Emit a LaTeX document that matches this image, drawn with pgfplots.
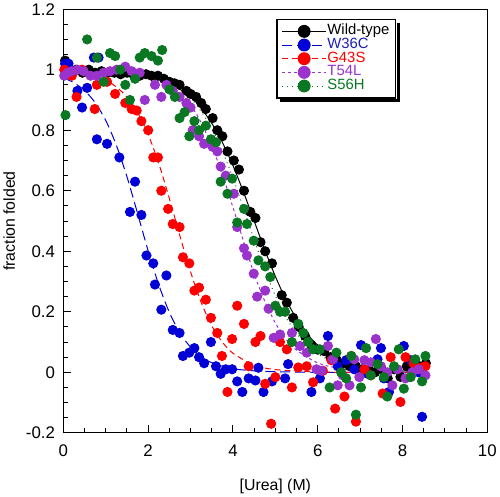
\documentclass[border=0pt]{standalone}
\usepackage{pgfplots}
\pgfplotsset{compat=1.18}
\usepackage{fontspec}
\setmainfont{Liberation Sans}
\usetikzlibrary{calc}
\definecolor{cblue}{RGB}{0,0,215}
\definecolor{cred}{RGB}{255,0,0}
\definecolor{cpurple}{RGB}{153,51,204}
\definecolor{cgreen}{RGB}{10,120,35}
\definecolor{tblue}{RGB}{30,30,190}
\begin{document}
\begin{tikzpicture}
\begin{axis}[
  scale only axis,
  width=428.3pt, height=428pt,
  xmin=0, xmax=10, ymin=-0.2, ymax=1.2,
  xtick={0,2,...,10}, ytick={-0.2,0,0.2,0.4,0.6,0.8,1,1.2},
  minor x tick num=3, minor y tick num=3,
  tick align=inside, xtick pos=bottom, ytick pos=left,
  major tick length=8pt, minor tick length=5pt,
  every tick/.style={black, line width=1pt},
  axis line style={line width=1.2pt},
  /pgf/number format/assume math mode=true,
  tick label style={font=\fontsize{17}{19}\selectfont},
  xticklabel style={yshift=-9pt},
  yticklabel style={xshift=-5pt},
  xlabel={[Urea] (M)}, ylabel={fraction folded},
  label style={font=\fontsize{16}{19}\selectfont},
  xlabel style={at={(axis description cs:0.5,-0.126)}, anchor=center},
  ylabel style={at={(axis description cs:-0.128,0.5)}, anchor=center},
  legend cell align=left,
  legend image code/.code={\draw[line width=1pt, mark repeat=2,mark phase=2] plot coordinates {(0pt,0pt) (22pt,0pt) (44pt,0pt)};},
  legend style={name=leg, at={(axis cs:5.02,1.168)}, anchor=north west, draw=black, line width=1.5pt, fill=white,
    font=\fontsize{15}{15}\selectfont, row sep=0pt, inner xsep=5pt, inner ysep=5pt,
    nodes={inner xsep=1pt, inner ysep=0.4pt, text height=10pt, text depth=3pt}},
  every axis plot/.append style={line width=1pt},
]
\addlegendimage{black, solid, mark=*, mark size=6pt, mark options={solid}}
\addlegendentry{\fontsize{15}{15}\selectfont Wild-type}
\addlegendimage{cblue, dash pattern=on 10pt off 5pt, mark=*, mark size=6pt, mark options={solid}}
\addlegendentry{\fontsize{15}{15}\selectfont\textcolor{tblue}{W36C}}
\addlegendimage{cred, dash pattern=on 6pt off 4pt, mark=*, mark size=6pt, mark options={solid}}
\addlegendentry{\fontsize{15}{15}\selectfont\textcolor{cred}{G43S}}
\addlegendimage{cpurple, dash pattern=on 3pt off 3pt, mark=*, mark size=6pt, mark options={solid}}
\addlegendentry{\fontsize{15}{15}\selectfont\textcolor{cpurple}{T54L}}
\addlegendimage{cgreen, dash pattern=on 1pt off 4pt, mark=*, mark size=6pt, mark options={solid}}
\addlegendentry{\fontsize{15}{15}\selectfont\textcolor{cgreen}{S56H}}

% fit curves
\addplot[forget plot, black, solid, smooth, no marks] coordinates {
(0,1.0)(1,0.995)(2,0.979)(2.5,0.956)(3,0.910)(3.25,0.872)(3.5,0.823)(3.75,0.760)(4,0.683)(4.25,0.595)(4.5,0.5)(4.75,0.405)(5,0.317)(5.25,0.240)(5.5,0.177)(5.75,0.128)(6,0.090)(6.5,0.044)(7,0.021)(7.5,0.010)(8,0.005)(8.5,0.002)};
\addplot[forget plot, cblue, dash pattern=on 10pt off 5pt, smooth, no marks] coordinates {
(0,0.973)(0.25,0.957)(0.5,0.931)(0.75,0.891)(1,0.832)(1.25,0.750)(1.5,0.646)(1.75,0.525)(2,0.401)(2.25,0.289)(2.5,0.198)(2.75,0.130)(3,0.083)(3.25,0.052)(3.5,0.032)(4,0.012)(4.5,0.005)(5,0.002)(6,0.0)(7,0.0)(8,0.0)(8.5,0.0)};
\addplot[forget plot, cred, dash pattern=on 6pt off 4pt, smooth, no marks] coordinates {
(0,0.995)(0.5,0.987)(1,0.964)(1.25,0.943)(1.5,0.909)(1.75,0.858)(2,0.786)(2.25,0.690)(2.5,0.574)(2.75,0.450)(3,0.332)(3.25,0.231)(3.5,0.154)(3.75,0.100)(4,0.063)(4.5,0.024)(5,0.009)(6,0.001)(7,0.0)(8,0.0)(8.5,0.0)};
\addplot[forget plot, cpurple, dash pattern=on 3pt off 3pt, smooth, no marks] coordinates {
(0,1.0)(1,0.996)(2,0.979)(2.5,0.948)(3,0.881)(3.25,0.825)(3.5,0.748)(3.75,0.654)(4,0.545)(4.25,0.433)(4.5,0.325)(4.75,0.235)(5,0.163)(5.25,0.110)(5.5,0.073)(6,0.031)(6.5,0.013)(7,0.005)(8,0.001)(8.5,0.0)};
\addplot[forget plot, cgreen, dash pattern=on 1pt off 4pt, smooth, no marks] coordinates {
(0,1.0)(1,0.996)(2,0.981)(2.5,0.956)(3,0.905)(3.25,0.862)(3.5,0.805)(3.75,0.731)(4,0.642)(4.25,0.542)(4.5,0.438)(4.75,0.339)(5,0.253)(5.25,0.182)(5.5,0.128)(5.75,0.088)(6,0.060)(6.5,0.027)(7,0.012)(7.5,0.005)(8,0.002)(8.5,0.001)};

% data
\addplot[forget plot, only marks, black, mark=*, mark size=4.6pt] coordinates {
(0.04,1.03)(0.15,1.0)(0.3,1.0)(0.45,0.99)(0.6,1.0)(0.75,0.99)(0.9,0.995)(1.05,0.99)(1.2,0.99)(1.35,0.985)(1.5,0.99)(1.65,0.985)(1.8,0.98)(1.95,0.985)(2.08,0.98)(2.23,0.98)(2.37,0.97)(2.5,0.96)(2.62,0.955)(2.74,0.95)(2.9,0.93)(3.0,0.92)(3.13,0.91)(3.25,0.89)(3.36,0.87)(3.52,0.84)(3.63,0.80)(3.75,0.78)(3.87,0.73)(4.02,0.70)(4.14,0.67)(4.26,0.60)(4.41,0.53)(4.53,0.51)(4.65,0.43)(4.76,0.40)(4.92,0.36)(5.15,0.255)(5.27,0.23)(5.42,0.18)(5.55,0.15)(5.7,0.12)(5.85,0.09)(6.0,0.075)(6.15,0.07)(6.3,0.05)(6.45,0.04)(6.6,0.03)(6.75,0.02)(6.9,0.02)(7.05,0.01)(7.2,0.01)(7.35,0.0)(7.5,0.01)(7.65,-0.02)(7.8,0.01)(7.95,-0.015)(8.1,0.02)(8.25,0.0)(8.4,0.02)(8.55,0.03)};
\addplot[forget plot, only marks, cblue, mark=*, mark size=4.6pt] coordinates {
(0.04,1.02)(0.12,1.02)(0.33,0.93)(0.44,0.875)(0.56,0.94)(0.72,1.04)(0.83,1.04)(0.79,0.77)(1.03,0.755)(1.32,0.71)(1.57,0.53)(1.69,0.63)(1.84,0.52)(1.96,0.386)(2.12,0.36)(2.16,0.29)(2.43,0.32)(2.31,0.207)(2.58,0.14)(2.74,0.13)(2.82,0.054)(2.97,0.065)(3.09,0.08)(3.2,0.05)(3.32,0.03)(3.48,0.10)(3.6,0.02)(3.71,-0.005)(3.83,0.01)(3.98,0.01)(4.1,-0.03)(4.22,-0.065)(4.37,-0.02)(4.53,-0.027)(4.6,0.015)(4.72,-0.065)(4.92,-0.03)(5.23,-0.02)(5.3,0.027)(5.85,-0.065)(6.05,-0.02)(6.24,0.12)(6.47,0.02)(6.67,0.04)(6.86,0.01)(7.02,0.09)(7.18,-0.005)(7.41,0.043)(7.49,0.08)(7.56,-0.02)(7.68,-0.065)(8.03,0.087)(8.19,0.04)(8.46,-0.147)(8.38,0.0)};
\addplot[forget plot, only marks, cred, mark=*, mark size=4.6pt] coordinates {
(0.02,1.0)(0.2,0.98)(0.31,0.91)(0.44,1.0)(0.74,0.87)(0.79,0.95)(1.03,0.96)(1.22,0.92)(1.46,0.89)(1.61,0.87)(1.73,0.865)(1.84,0.83)(2.0,0.80)(2.12,0.71)(2.23,0.71)(2.31,0.60)(2.47,0.54)(2.58,0.49)(2.74,0.48)(2.82,0.38)(2.97,0.36)(3.09,0.27)(3.2,0.28)(3.36,0.24)(3.48,0.18)(3.63,0.13)(3.74,0.054)(3.87,-0.065)(3.98,0.11)(4.1,0.22)(4.26,0.16)(4.37,0.02)(4.53,0.10)(4.65,0.12)(4.76,-0.038)(4.9,-0.17)(5.0,-0.016)(5.11,0.10)(5.27,0.076)(5.39,-0.05)(5.54,0.016)(5.74,0.02)(5.89,-0.033)(6.12,0.005)(6.32,0.04)(6.41,-0.12)(6.63,-0.08)(6.79,0.054)(6.9,-0.163)(7.1,0.01)(7.25,-0.01)(7.53,-0.07)(7.72,0.05)(7.95,-0.098)(8.07,0.05)(8.26,0.03)(8.46,0.016)(8.54,0.02)};
\addplot[forget plot, only marks, cpurple, mark=*, mark size=4.6pt] coordinates {
(0.02,0.98)(0.1,0.99)(0.2,0.995)(0.33,1.0)(0.48,0.995)(0.64,0.98)(0.79,0.98)(0.95,0.99)(1.1,0.995)(1.26,1.0)(1.46,1.01)(1.61,0.995)(1.8,0.99)(1.92,0.90)(2.16,0.95)(2.31,0.91)(2.43,0.95)(2.58,0.93)(2.74,0.91)(2.9,0.89)(3.0,0.875)(3.05,0.80)(3.2,0.78)(3.32,0.755)(3.52,0.745)(3.63,0.73)(3.71,0.68)(3.83,0.65)(4.02,0.59)(4.1,0.48)(4.26,0.41)(4.33,0.386)(4.49,0.326)(4.57,0.25)(4.76,0.27)(4.84,0.21)(4.96,0.114)(5.11,0.125)(5.39,0.13)(5.58,0.087)(5.74,0.065)(5.97,0.01)(6.09,0.005)(6.24,0.087)(6.36,0.043)(6.47,-0.043)(6.59,-0.01)(6.75,-0.043)(6.86,0.043)(6.98,-0.016)(7.1,0.04)(7.25,0.033)(7.37,0.11)(7.49,0.02)(7.64,0.0)(7.76,-0.043)(7.88,0.01)(8.07,-0.02)(8.23,0.0)(8.38,0.01)(8.54,-0.01)};
\addplot[forget plot, only marks, cgreen, mark=*, mark size=4.6pt] coordinates {
(0.05,0.85)(0.56,1.10)(0.79,1.04)(0.95,0.96)(1.1,1.055)(1.22,1.045)(1.34,1.0)(1.46,0.95)(1.57,0.90)(1.69,0.97)(1.8,1.04)(1.92,1.055)(2.08,1.045)(2.23,1.03)(2.33,1.065)(2.5,0.935)(2.63,0.91)(2.74,0.84)(2.86,0.86)(2.97,0.78)(3.09,0.83)(3.2,0.80)(3.36,0.815)(3.48,0.77)(3.6,0.76)(3.71,0.63)(3.87,0.59)(3.98,0.64)(4.1,0.495)(4.26,0.54)(4.33,0.49)(4.49,0.435)(4.6,0.37)(4.76,0.35)(4.88,0.315)(5.0,0.22)(5.11,0.20)(5.23,0.20)(5.39,0.10)(5.54,0.16)(5.66,0.13)(5.77,0.10)(5.89,0.076)(6.05,0.076)(6.28,-0.05)(6.44,0.065)(6.55,0.0)(6.67,-0.02)(6.79,0.054)(6.9,-0.14)(7.02,-0.05)(7.14,0.08)(7.25,-0.01)(7.41,0.027)(7.56,-0.016)(7.64,-0.08)(7.8,0.02)(7.91,0.076)(8.03,-0.054)(8.19,-0.016)(8.3,0.043)(8.46,-0.03)(8.54,0.054)};
\end{axis}
\fill[black] ($(leg.north east)+(0.7pt,-4pt)$) rectangle ($(leg.south east)+(4pt,-4pt)$);
\fill[black] ($(leg.south west)+(4pt,-0.7pt)$) rectangle ($(leg.south east)+(4pt,-4pt)$);
\end{tikzpicture}
\end{document}
